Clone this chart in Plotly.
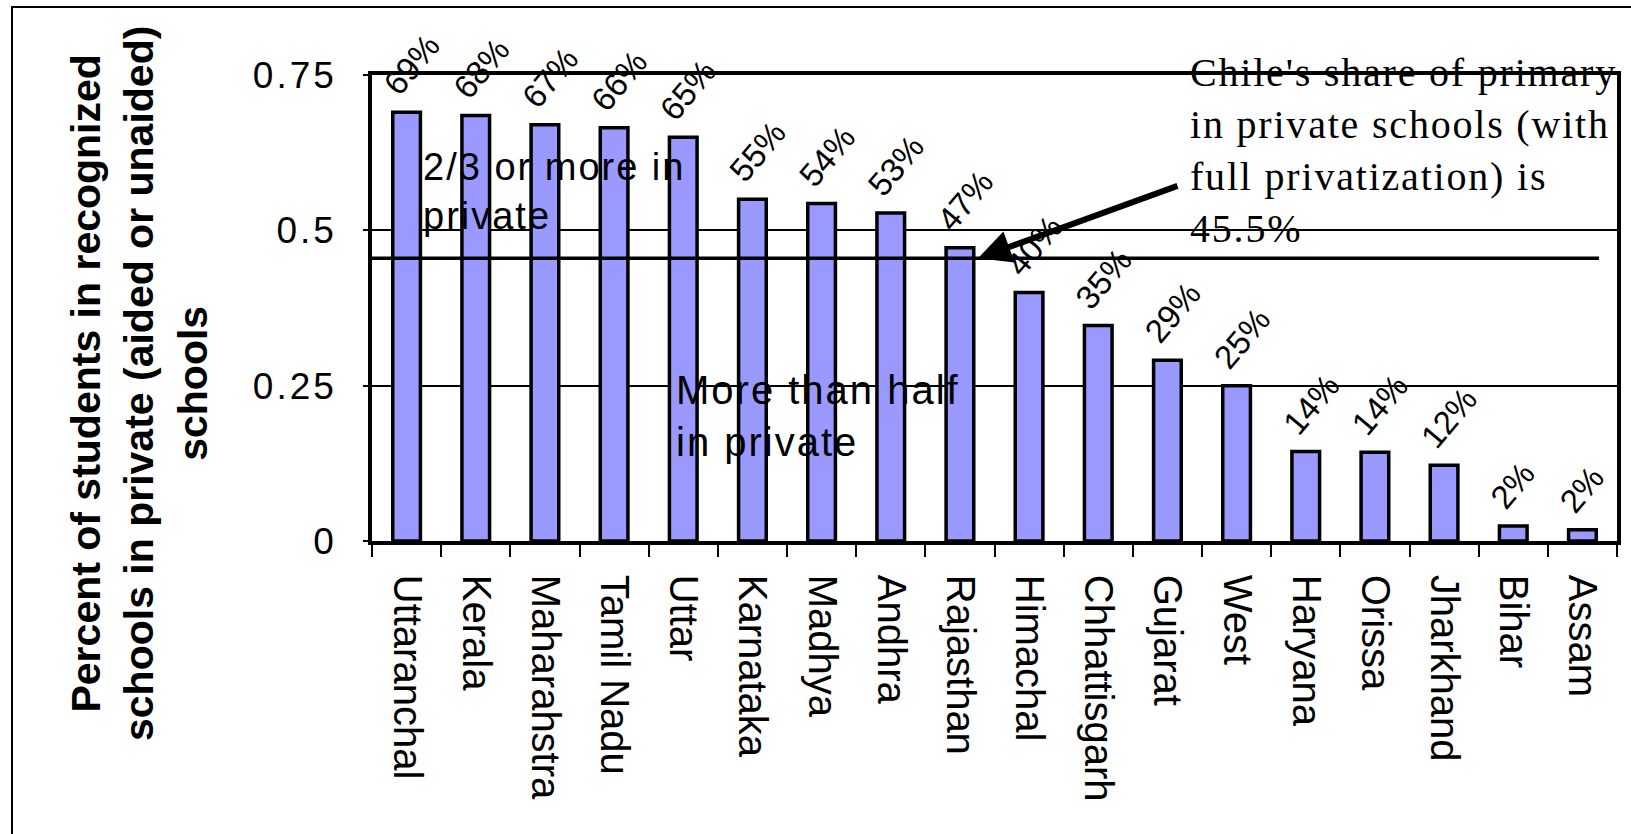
import math
import plotly.graph_objects as go

# State-wise share of students in recognized schools that are private (aided or unaided)
states = ["Uttaranchal", "Kerala", "Maharahstra", "Tamil Nadu", "Uttar", "Karnataka",
          "Madhya", "Andhra", "Rajasthan", "Himachal", "Chhattisgarh", "Gujarat",
          "West", "Haryana", "Orissa", "Jharkhand", "Bihar", "Assam"]
private_share = [0.69, 0.685, 0.67, 0.665, 0.65, 0.55, 0.543, 0.528, 0.472, 0.40,
                 0.347, 0.291, 0.25, 0.144, 0.143, 0.122, 0.024, 0.018]
y_ticks = [0, 0.25, 0.5, 0.75]
y_tick_text = ["0", "0.25", "0.5", "0.75"]
chile_share = 0.455

# figure geometry (pixels)
W, H = 1631, 834
L, R, T, B = 372, 14, 75, 293
PW, PH = W - L - R, H - T - B


def px_x(x):
    return (x - L) / PW


def px_y(y):
    return (H - B - y) / PH


FONT = "Liberation Sans, Arial, sans-serif"
SERIF = "Liberation Serif, Times New Roman, serif"


def spaced(text, sp):
    return f'<span style="letter-spacing:{sp}px">{text}</span>'


fig = go.Figure()
fig.add_trace(go.Bar(
    x=states, y=private_share, width=0.4,
    marker=dict(color="#9999FF", line=dict(color="black", width=3.5)),
    hoverinfo="x+y",
))

annotations = []
# rotated percentage labels: each label starts at a fixed point up-left of its bar top
LABEL_SIZE, LABEL_ANGLE = 33, 50
GLYPH_W = {"%": 0.889}
for s, v in zip(states, private_share):
    label = f"{round(v * 100)}%"
    half = 0.5 * LABEL_SIZE * sum(GLYPH_W.get(c, 0.556) for c in label)
    a = math.radians(LABEL_ANGLE)
    annotations.append(dict(
        x=s, y=v, xref="x", yref="y", text=label,
        showarrow=False, textangle=-LABEL_ANGLE, xanchor="center", yanchor="middle",
        xshift=-16 + half * math.cos(a), yshift=22 + half * math.sin(a),
        font=dict(family=FONT, size=LABEL_SIZE, color="black"),
    ))

# arrow to the Chile reference line
annotations.append(dict(
    x=px_x(978), y=chile_share, xref="paper", yref="y", text="",
    showarrow=True, arrowhead=2, arrowsize=1.1, arrowwidth=6, arrowcolor="black",
    ax=201, ay=-73, standoff=0,
))
annotations.append(dict(
    x=px_x(1188), y=px_y(150), xref="paper", yref="paper",
    text="<br>".join(spaced(t, 1.8) for t in [
        "Chile's share of primary", "in private schools (with",
        "full privatization) is", "45.5%"]),
    showarrow=False, xanchor="left", yanchor="middle", align="left",
    font=dict(family=SERIF, size=40, color="black"),
))
annotations.append(dict(
    x=px_x(421), y=px_y(191), xref="paper", yref="paper",
    text=spaced("2/3 or more in", 2) + "<br>" + spaced("private", 2),
    showarrow=False, xanchor="left", yanchor="middle", align="left",
    font=dict(family=FONT, size=38, color="black"),
))
annotations.append(dict(
    x=px_x(674), y=px_y(416), xref="paper", yref="paper",
    text=spaced("More than half", 2) + "<br>" + spaced("in private", 2),
    showarrow=False, xanchor="left", yanchor="middle", align="left",
    font=dict(family=FONT, size=40, color="black"),
))
# y-axis title
annotations.append(dict(
    x=px_x(139), y=px_y(383), xref="paper", yref="paper",
    text="Percent of students in recognized<br>schools in private (aided or unaided)<br>schools",
    showarrow=False, textangle=-90, xanchor="center", yanchor="middle", align="center",
    font=dict(family=FONT, size=41, color="black", weight="bold"),
))

shapes = [
    # Chile reference line
    dict(type="line", xref="paper", yref="y", x0=0, x1=px_x(1599),
         y0=chile_share, y1=chile_share, line=dict(color="black", width=3.5)),
    # outer frame
    dict(type="path", xref="paper", yref="paper",
         path=f"M {px_x(12)},{px_y(H + 20)} L {px_x(12)},{px_y(7)} L {px_x(W + 20)},{px_y(7)}",
         line=dict(color="black", width=2)),
]

fig.update_layout(
    width=W, height=H,
    margin=dict(l=L, r=R, t=T, b=B, autoexpand=False),
    paper_bgcolor="white", plot_bgcolor="white",
    showlegend=False,
    annotations=annotations, shapes=shapes,
)
fig.update_xaxes(
    type="category", tickson="boundaries", ticks="outside", ticklen=12, tickwidth=2,
    tickcolor="black", tickangle=90, ticklabelstandoff=22,
    tickfont=dict(family=FONT, size=40, color="black"),
    showline=True, linecolor="black", linewidth=3.5, mirror=True,
    showgrid=False, range=[-0.5, 17.5],
)
fig.update_yaxes(
    range=[0, 0.75], tickvals=y_ticks, ticktext=[spaced(t, 3) for t in y_tick_text],
    ticks="outside", ticklen=5, tickwidth=2, tickcolor="black",
    ticklabelstandoff=19,
    tickfont=dict(family=FONT, size=37, color="black"),
    showline=True, linecolor="black", linewidth=3.5, mirror=True,
    showgrid=True, gridcolor="black", gridwidth=2, zeroline=False,
)

fig.write_html("out.html")
